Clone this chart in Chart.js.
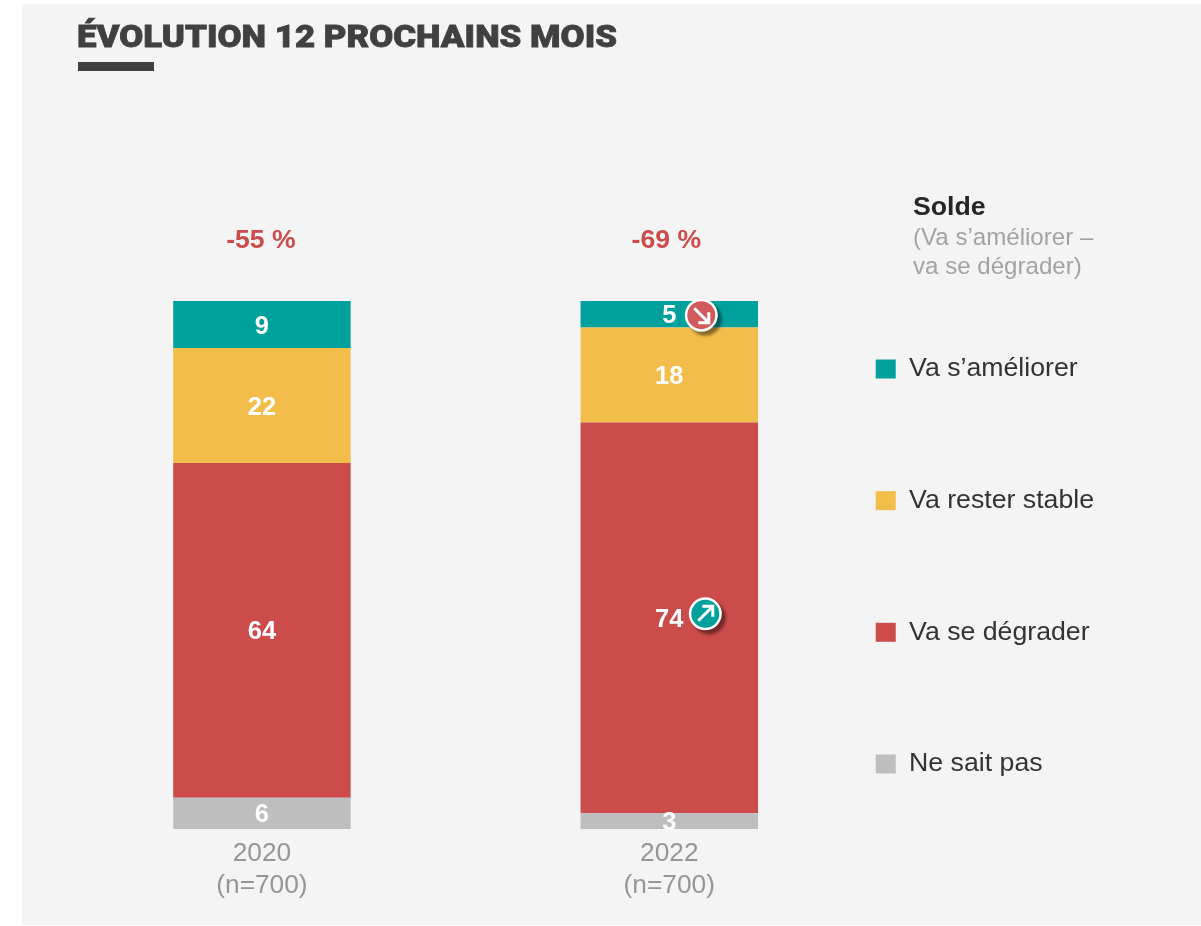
<!DOCTYPE html>
<html><head><meta charset="utf-8">
<style>html,body{margin:0;padding:0;background:#fff}#w{position:absolute;left:0;top:0;width:1201px;height:926px}</style>
<script src="https://cdn.jsdelivr.net/npm/chart.js@4"></script></head>
<body><div id="w"><canvas id="c"></canvas></div>
<script>
const categories = [['2020','(n=700)'],['2022','(n=700)']];
const improve = [9,5];
const stable = [22,18];
const worsen = [64,74];
const unknown = [6,3];
const balance = ['-55 %','-69 %'];
const titleText = 'ÉVOLUTION 12 PROCHAINS MOIS';
const soldeLines = ['Solde','(Va s’améliorer –','va se dégrader)'];
const colors = {improve:'#00A09D',stable:'#F2BD4B',worsen:'#CC4B4B',unknown:'#BEBEBE'};
const FONT='"Liberation Sans", Arial, sans-serif';
const totals = categories.map((_,i)=>improve[i]+stable[i]+worsen[i]+unknown[i]);
const share = a => a.map((v,i)=>v/totals[i]*100);
const raw = [unknown,worsen,stable,improve];

const deco = {
  id:'deco',
  afterLayout(ch){
    // the legend column starts level with the first item of the original
    const h=ch.legend.bottom-ch.legend.top;
    ch.legend.top=352.9; ch.legend.bottom=352.9+h;
  },
  beforeDraw(ch){
    const c=ch.ctx; c.save();
    c.fillStyle='#F4F4F4'; c.fillRect(22,4,1179,921);
    c.restore();
  },
  afterDraw(ch){
    const c=ch.ctx; c.save();
    // title, stretched to the wide heavy face of the original
    c.textAlign='left'; c.textBaseline='alphabetic';
    c.font='900 32px Roboto, '+FONT; c.fillStyle='#404040';
    c.lineWidth=0.8; c.strokeStyle='#404040';
    const k=540/c.measureText(titleText).width;
    c.save(); c.translate(77,47); c.scale(k,1);
    c.fillText(titleText,0,0); c.strokeText(titleText,0,0); c.restore();
    c.fillRect(78,62,76,9);
    // value labels
    c.textAlign='center'; c.textBaseline='middle'; c.fillStyle='#fff';
    c.font='bold 25.5px '+FONT;
    ch.data.datasets.forEach((d,di)=>{
      ch.getDatasetMeta(di).data.forEach((b,i)=>{
        const p=b.getProps(['x','y','base'],true);
        c.fillText(String(raw[di][i]),p.x,(p.y+p.base)/2+2);
      });
    });
    // balance above bars
    const m=ch.getDatasetMeta(3).data;
    c.font='bold 26.6px '+FONT; c.fillStyle='#CC4B4B';
    c.fillText(balance[0],m[0].x-1,241);
    c.fillText(balance[1],m[1].x-3,241);
    // solde note
    c.textAlign='left'; c.textBaseline='alphabetic';
    c.font='bold 26.7px '+FONT; c.fillStyle='#262626';
    c.fillText(soldeLines[0],913,215);
    c.font='24.1px '+FONT; c.fillStyle='#A3A3A3';
    c.fillText(soldeLines[1],913,245);
    c.fillText(soldeLines[2],913,274);
    // evolution badges
    const badge=(x,y,col,dir)=>{
      c.save();
      c.shadowColor='rgba(0,0,0,.45)'; c.shadowBlur=3; c.shadowOffsetX=4; c.shadowOffsetY=4;
      c.beginPath(); c.arc(x,y,16.5,0,Math.PI*2); c.fillStyle='#fff'; c.fill();
      c.restore();
      c.beginPath(); c.arc(x,y,14,0,Math.PI*2); c.fillStyle=col; c.fill();
      c.strokeStyle='#fff'; c.lineWidth=3; c.lineCap='butt'; c.lineJoin='miter';
      c.beginPath();
      if(dir>0){ c.moveTo(x-7,y+7); c.lineTo(x+7,y-7); c.moveTo(x-3,y-7.5); c.lineTo(x+7.5,y-7.5); c.lineTo(x+7.5,y+3); }
      else { c.moveTo(x-7,y-7); c.lineTo(x+7,y+7); c.moveTo(x+7.5,y-3); c.lineTo(x+7.5,y+7.5); c.lineTo(x-3,y+7.5); }
      c.stroke();
    };
    const b5=ch.getDatasetMeta(3).data[1], b74=ch.getDatasetMeta(1).data[1];
    badge(b5.x+32,(b5.y+b5.base)/2+1,'#D05A5C',-1);
    badge(b74.x+36,(b74.y+b74.base)/2-4,'#00A09D',1);
    c.restore();
  }
};

new Chart(document.getElementById('c'),{
  type:'bar',
  data:{labels:categories,datasets:[
    {label:'Ne sait pas',data:share(unknown),backgroundColor:colors.unknown},
    {label:'Va se dégrader',data:share(worsen),backgroundColor:colors.worsen},
    {label:'Va rester stable',data:share(stable),backgroundColor:colors.stable},
    {label:'Va s’améliorer',data:share(improve),backgroundColor:colors.improve}
  ]},
  plugins:[deco],
  options:{
    responsive:true,maintainAspectRatio:false,animation:false,
    layout:{padding:{left:58.25,top:4,right:97,bottom:23}},
    datasets:{bar:{barPercentage:0.4356,categoryPercentage:1}},
    scales:{
      x:{stacked:true,grid:{display:false},border:{display:false},
         ticks:{color:'#969696',font:{family:FONT,size:26.3,lineHeight:'32px'},padding:1,maxRotation:0}},
      y:{stacked:true,display:false,min:0,max:156.25}
    },
    plugins:{
      tooltip:{enabled:false},
      legend:{position:'right',align:'start',reverse:true,
        labels:{boxWidth:20,boxHeight:19,color:'#333',font:{family:FONT,size:26.7,lineHeight:'128.9px'},padding:2.75,
          generateLabels(ch){
            return ch.data.datasets.map((d,i)=>({text:[d.label],fillStyle:d.backgroundColor,strokeStyle:d.backgroundColor,lineWidth:0,datasetIndex:i,fontColor:'#333'}));
          }}}
    }
  }
});
</script></body></html>
